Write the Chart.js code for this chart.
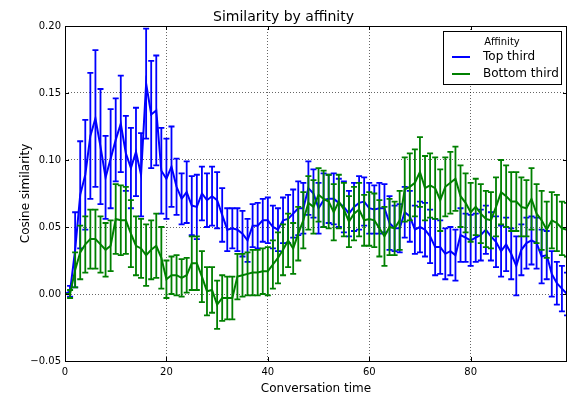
<!DOCTYPE html>
<html>
<head>
<meta charset="utf-8">
<script src="https://cdn.jsdelivr.net/npm/chart.js@4.4.0/dist/chart.umd.min.js"></script>
<style>
  html, body { margin: 0; padding: 0; background: #fff; }
  canvas { display: block; }
</style>
</head>
<body>
<canvas id="chart" width="568" height="394"></canvas>
<script>
// conversation time steps 0..99
const times = Array.from({ length: 100 }, (_, i) => i);

const topThird = [
  0.000, 0.002, 0.033, 0.074, 0.089, 0.118, 0.131, 0.110, 0.087, 0.101,
  0.115, 0.127, 0.105, 0.094, 0.106, 0.089, 0.157, 0.134, 0.137, 0.092,
  0.086, 0.095, 0.080, 0.071, 0.076, 0.066, 0.065, 0.075, 0.070, 0.073,
  0.070, 0.059, 0.048, 0.049, 0.048, 0.045, 0.040, 0.051, 0.051, 0.055,
  0.055, 0.050, 0.048, 0.055, 0.056, 0.060, 0.064, 0.064, 0.079, 0.075,
  0.064, 0.070, 0.071, 0.071, 0.068, 0.065, 0.060, 0.065, 0.068, 0.069,
  0.064, 0.063, 0.064, 0.064, 0.053, 0.049, 0.049, 0.061, 0.058, 0.048,
  0.050, 0.048, 0.043, 0.035, 0.035, 0.030, 0.032, 0.029, 0.044, 0.042,
  0.040, 0.042, 0.044, 0.048, 0.043, 0.039, 0.032, 0.037, 0.030, 0.021,
  0.033, 0.038, 0.040, 0.038, 0.028, 0.029, 0.015, 0.008, 0.004, 0.000
];
const topThirdErr = [
  0.000, 0.004, 0.028, 0.040, 0.041, 0.047, 0.051, 0.043, 0.031, 0.037,
  0.031, 0.036, 0.028, 0.030, 0.033, 0.031, 0.041, 0.040, 0.041, 0.032,
  0.030, 0.030, 0.021, 0.019, 0.023, 0.022, 0.024, 0.020, 0.020, 0.022,
  0.021, 0.020, 0.016, 0.015, 0.016, 0.017, 0.016, 0.016, 0.017, 0.016,
  0.017, 0.016, 0.016, 0.017, 0.018, 0.018, 0.020, 0.019, 0.020, 0.018,
  0.019, 0.020, 0.018, 0.019, 0.018, 0.019, 0.017, 0.018, 0.020, 0.018,
  0.019, 0.018, 0.019, 0.018, 0.020, 0.017, 0.018, 0.019, 0.019, 0.018,
  0.019, 0.020, 0.020, 0.021, 0.020, 0.019, 0.018, 0.019, 0.020, 0.018,
  0.019, 0.018, 0.019, 0.018, 0.018, 0.019, 0.019, 0.020, 0.019, 0.022,
  0.019, 0.019, 0.018, 0.019, 0.020, 0.018, 0.017, 0.016, 0.017, 0.016
];
const bottomThird = [
  0.000, 0.000, 0.018, 0.031, 0.037, 0.041, 0.041, 0.037, 0.033, 0.036,
  0.056, 0.055, 0.055, 0.045, 0.036, 0.034, 0.029, 0.033, 0.036, 0.027,
  0.011, 0.014, 0.014, 0.012, 0.014, 0.023, 0.023, 0.013, 0.002, 0.003,
  -0.008, -0.003, -0.003, -0.003, 0.013, 0.014, 0.015, 0.016, 0.016, 0.017,
  0.017, 0.022, 0.027, 0.033, 0.040, 0.034, 0.045, 0.055, 0.068, 0.065,
  0.074, 0.071, 0.069, 0.061, 0.069, 0.063, 0.054, 0.060, 0.063, 0.055,
  0.056, 0.055, 0.049, 0.043, 0.050, 0.049, 0.055, 0.078, 0.080, 0.083,
  0.091, 0.079, 0.081, 0.079, 0.070, 0.080, 0.083, 0.086, 0.073, 0.068,
  0.061, 0.065, 0.060, 0.056, 0.055, 0.065, 0.076, 0.073, 0.069, 0.069,
  0.065, 0.064, 0.071, 0.060, 0.055, 0.048, 0.055, 0.053, 0.049, 0.048
];
const bottomThirdErr = [
  0.000, 0.003, 0.013, 0.020, 0.021, 0.022, 0.022, 0.021, 0.020, 0.019,
  0.026, 0.026, 0.025, 0.025, 0.022, 0.022, 0.023, 0.022, 0.024, 0.023,
  0.014, 0.014, 0.015, 0.014, 0.013, 0.020, 0.020, 0.019, 0.018, 0.017,
  0.018, 0.017, 0.016, 0.016, 0.017, 0.016, 0.016, 0.017, 0.017, 0.017,
  0.018, 0.018, 0.019, 0.019, 0.020, 0.019, 0.020, 0.021, 0.020, 0.020,
  0.020, 0.021, 0.020, 0.021, 0.020, 0.020, 0.019, 0.020, 0.020, 0.019,
  0.020, 0.020, 0.021, 0.022, 0.021, 0.020, 0.022, 0.024, 0.025, 0.025,
  0.026, 0.024, 0.024, 0.023, 0.023, 0.022, 0.023, 0.024, 0.023, 0.022,
  0.022, 0.021, 0.022, 0.021, 0.021, 0.022, 0.024, 0.023, 0.022, 0.022,
  0.022, 0.021, 0.023, 0.022, 0.022, 0.021, 0.021, 0.021, 0.020, 0.020
];

const xTicks = [0, 20, 40, 60, 80];
const yTicks = [-0.05, 0.00, 0.05, 0.10, 0.15, 0.20];

const FONT = "'DejaVu Sans', 'Liberation Sans', sans-serif";
Chart.defaults.font.family = FONT;
Chart.defaults.color = '#000';

// vertical error bars with caps, drawn under each dataset's line
const errorBars = {
  id: 'errorBars',
  beforeDatasetDraw(chart, args) {
    const ds = chart.data.datasets[args.index];
    if (!ds.errors) return;
    const { ctx, chartArea } = chart;
    const x = chart.scales.x, y = chart.scales.y;
    ctx.save();
    ctx.beginPath();
    ctx.rect(chartArea.left, chartArea.top, chartArea.right - chartArea.left, chartArea.bottom - chartArea.top);
    ctx.clip();
    ctx.strokeStyle = ds.borderColor;
    ctx.lineWidth = 1.8;
    ds.data.forEach((pt, i) => {
      const e = ds.errors[i];
      if (!e) return;
      const px = x.getPixelForValue(pt.x);
      const top = y.getPixelForValue(pt.y + e);
      const bot = y.getPixelForValue(pt.y - e);
      ctx.beginPath();
      ctx.moveTo(px, top); ctx.lineTo(px, bot);
      ctx.moveTo(px - 3, top); ctx.lineTo(px + 3, top);
      ctx.moveTo(px - 3, bot); ctx.lineTo(px + 3, bot);
      ctx.stroke();
    });
    ctx.restore();
  }
};

// matplotlib-like frame, inward ticks and boxed legend
const frame = {
  id: 'frame',
  afterDraw(chart) {
    const { ctx, chartArea: a } = chart;
    const x = chart.scales.x, y = chart.scales.y;
    ctx.save();
    ctx.strokeStyle = '#000';
    ctx.lineWidth = 1;
    ctx.strokeRect(Math.round(a.left) + 0.5, Math.round(a.top) + 0.5,
      Math.round(a.right - a.left) - 1, Math.round(a.bottom - a.top));
    ctx.beginPath();
    xTicks.forEach(v => {
      const px = Math.round(x.getPixelForValue(v)) + 0.5;
      ctx.moveTo(px, a.bottom); ctx.lineTo(px, a.bottom - 4);
      ctx.moveTo(px, a.top); ctx.lineTo(px, a.top + 4);
    });
    yTicks.forEach(v => {
      const py = Math.round(y.getPixelForValue(v)) + 0.5;
      ctx.moveTo(a.left, py); ctx.lineTo(a.left + 4, py);
      ctx.moveTo(a.right, py); ctx.lineTo(a.right - 4, py);
    });
    ctx.stroke();

    // legend
    const lx = 443.5, ly = 31.5, lw = 118, lh = 53;
    ctx.fillStyle = '#fff';
    ctx.fillRect(lx, ly, lw, lh);
    ctx.strokeRect(lx, ly, lw, lh);
    ctx.fillStyle = '#000';
    ctx.textBaseline = 'middle';
    ctx.textAlign = 'center';
    ctx.font = '10px ' + FONT;
    ctx.fillText('Affinity', 502, 42);
    ctx.textAlign = 'left';
    ctx.font = '12px ' + FONT;
    chart.data.datasets.forEach((ds, i) => {
      const ry = 57 + i * 17;
      ctx.strokeStyle = ds.borderColor;
      ctx.lineWidth = 2;
      ctx.beginPath();
      ctx.moveTo(452, ry); ctx.lineTo(470, ry);
      ctx.stroke();
      ctx.fillText(ds.label, 483, ry);
    });
    ctx.restore();
  }
};

new Chart(document.getElementById('chart'), {
  type: 'line',
  data: {
    datasets: [
      {
        label: 'Top third',
        data: times.map((t, i) => ({ x: t, y: topThird[i] })),
        errors: topThirdErr,
        borderColor: '#0000ff',
        borderWidth: 2,
        pointRadius: 0,
        tension: 0,
        order: 1
      },
      {
        label: 'Bottom third',
        data: times.map((t, i) => ({ x: t, y: bottomThird[i] })),
        errors: bottomThirdErr,
        borderColor: '#008000',
        borderWidth: 2,
        pointRadius: 0,
        tension: 0,
        order: 0
      }
    ]
  },
  options: {
    responsive: false,
    animation: false,
    devicePixelRatio: 1,
    layout: { padding: { left: 0, right: 1, top: 0, bottom: 0 } },
    plugins: {
      legend: { display: false },
      tooltip: { enabled: false },
      title: {
        display: true,
        text: 'Similarity by affinity',
        color: '#000',
        font: { size: 14, weight: 'normal' },
        padding: { top: 8.6, bottom: 0.6 }
      }
    },
    scales: {
      x: {
        type: 'linear',
        min: 0,
        max: 99,
        afterFit: (s) => { s.height = 33; },
        afterBuildTicks: (s) => { s.ticks = xTicks.map(v => ({ value: v })); },
        ticks: { font: { size: 10 }, color: '#000', padding: 5, maxRotation: 0 },
        grid: { color: 'rgba(0,0,0,0.6)', lineWidth: 1, drawTicks: false },
        border: { display: false, dash: [1, 2] },
        title: {
          display: true,
          text: 'Conversation time',
          color: '#000',
          font: { size: 12 },
          padding: { top: 0, bottom: -2 }
        }
      },
      y: {
        min: -0.05,
        max: 0.20,
        afterFit: (s) => { s.width = 65; },
        afterBuildTicks: (s) => { s.ticks = yTicks.map(v => ({ value: v })); },
        ticks: {
          font: { size: 10 },
          color: '#000',
          padding: 4,
          callback: (v) => v.toFixed(2).replace('-', '\u2212')
        },
        grid: { color: 'rgba(0,0,0,0.6)', lineWidth: 1, drawTicks: false },
        border: { display: false, dash: [1, 2] },
        title: {
          display: true,
          text: 'Cosine similarity',
          color: '#000',
          font: { size: 12 },
          padding: { top: 19, bottom: 0 }
        }
      }
    }
  },
  plugins: [errorBars, frame]
});
</script>
</body>
</html>
